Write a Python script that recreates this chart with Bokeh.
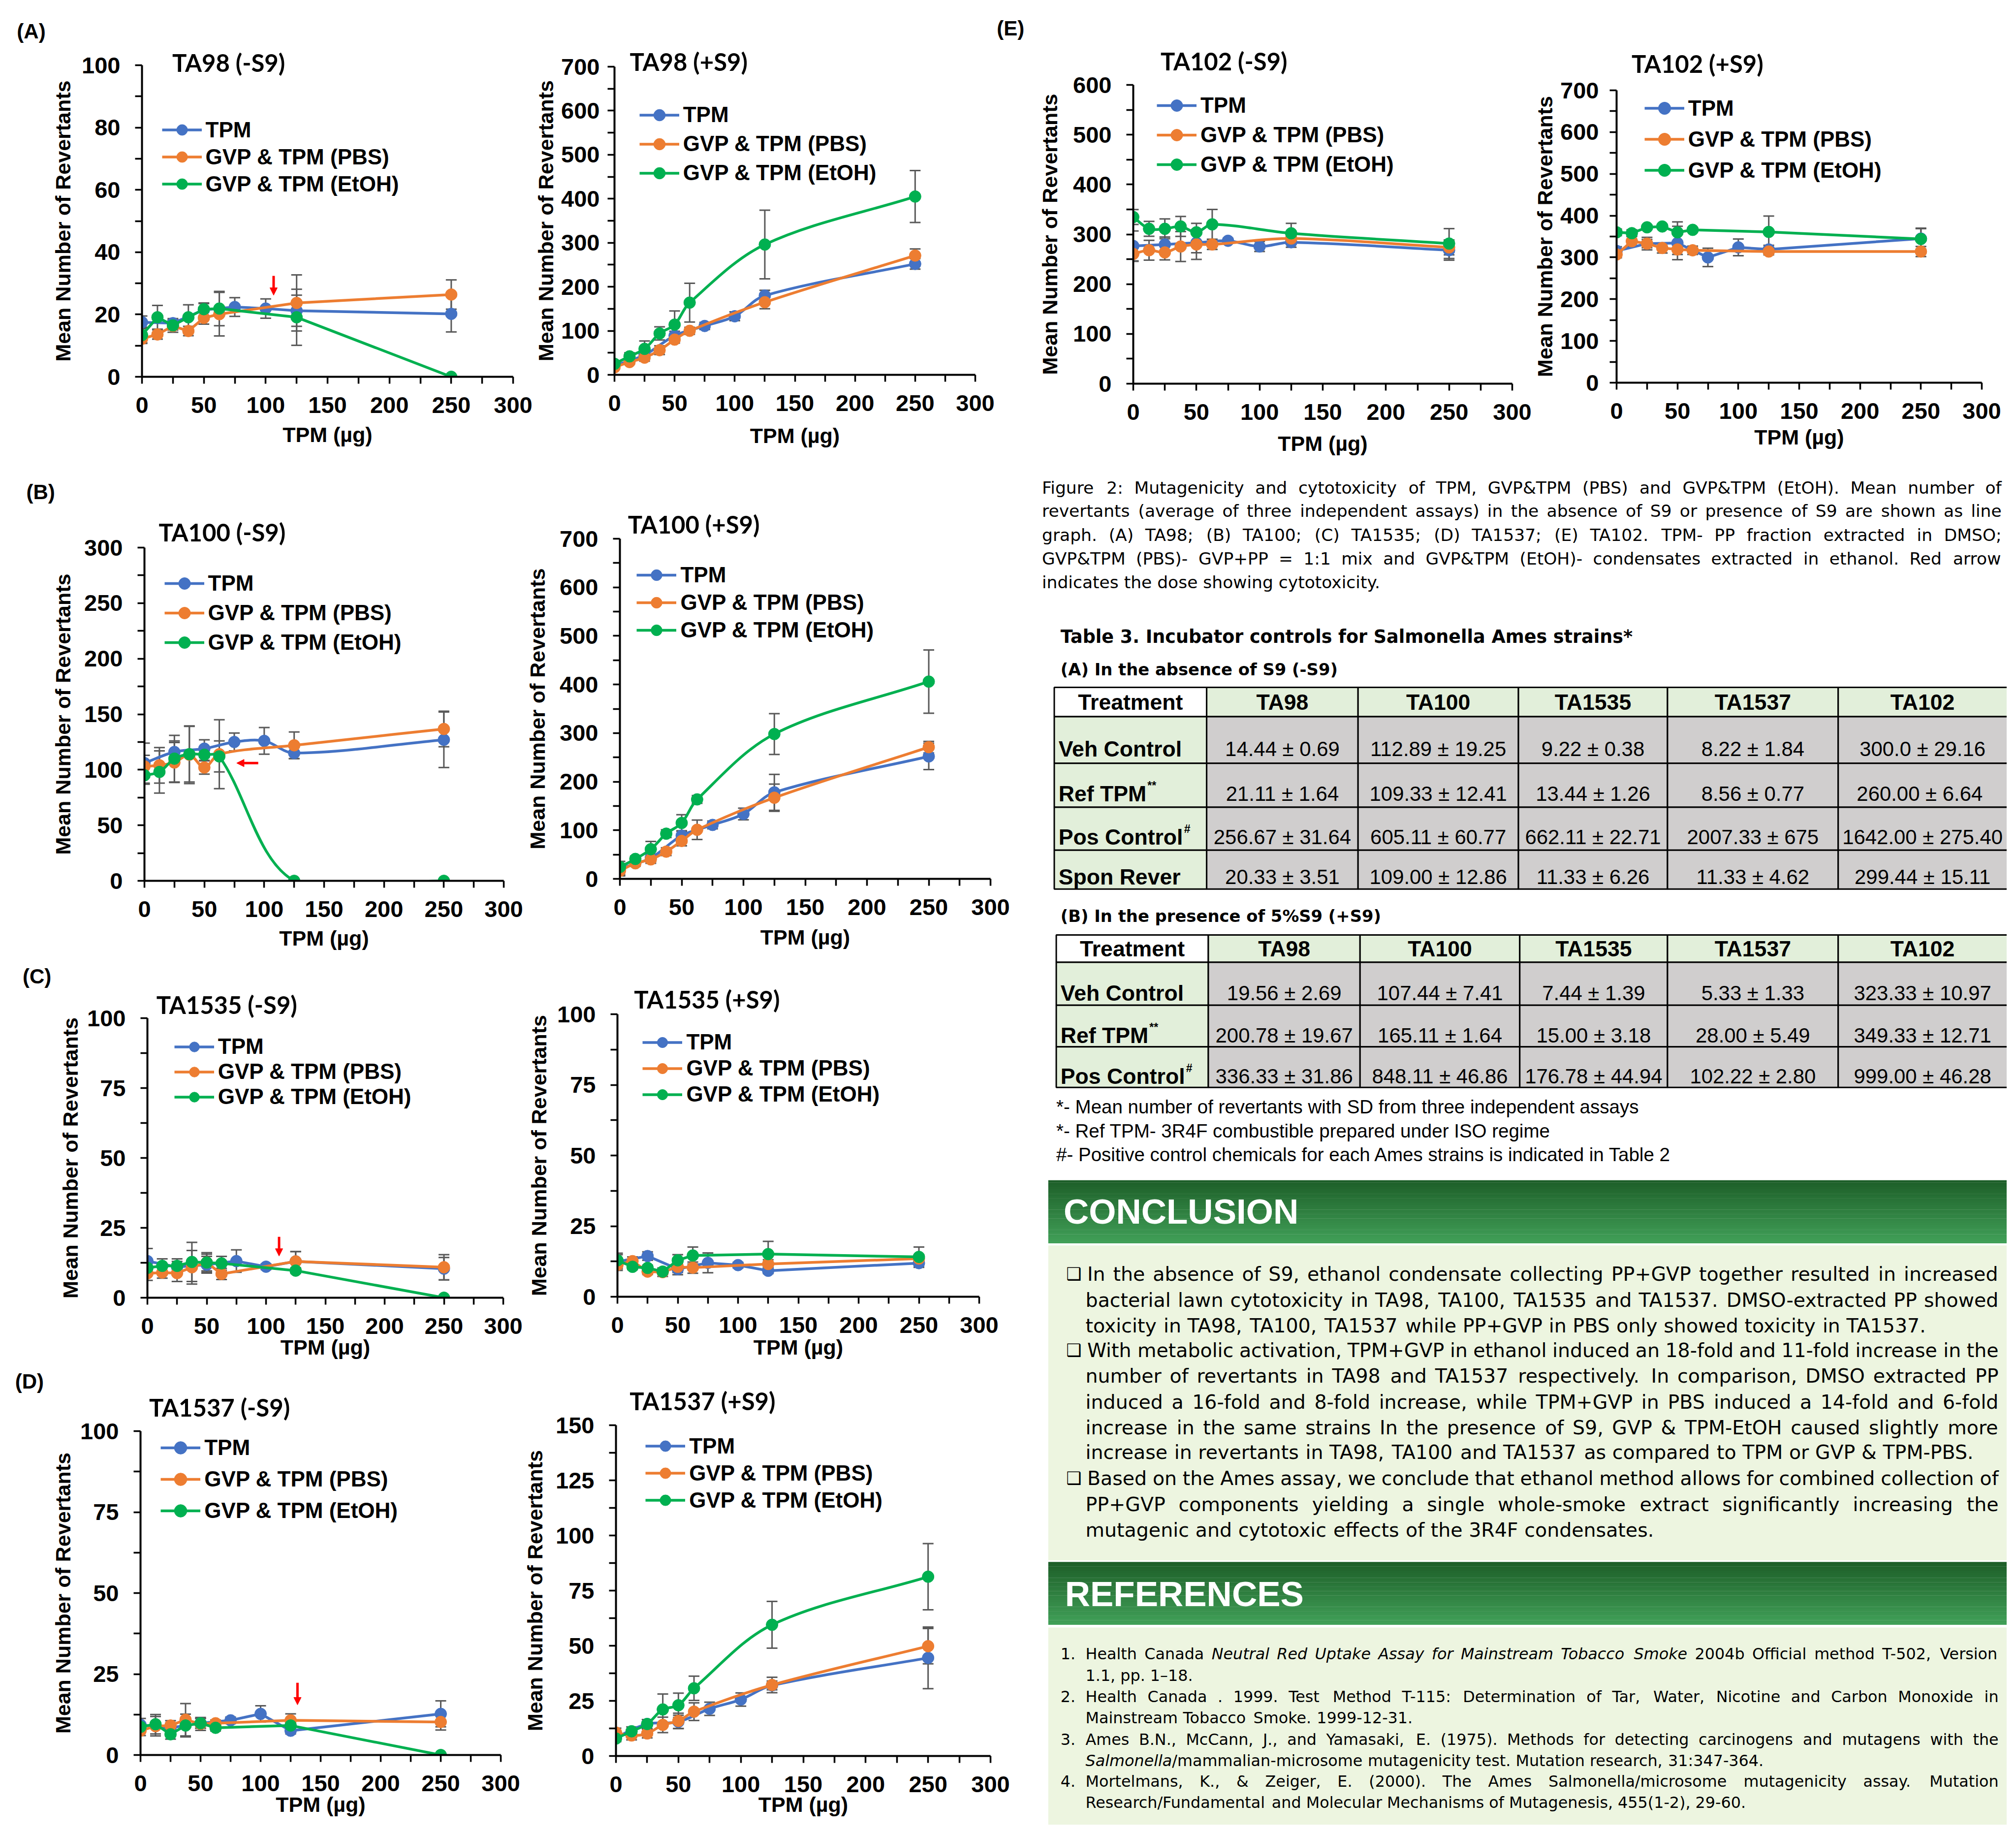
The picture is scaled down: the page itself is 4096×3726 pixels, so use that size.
import math
import numpy as np
from bokeh.plotting import figure
from bokeh.models import (Range1d, FixedTicker, Legend, LegendItem, Title, Arrow, NormalHead,
                          Whisker, TeeHead, ColumnDataSource)
from bokeh.layouts import row, column
from bokeh.embed import file_html
from bokeh.resources import INLINE
from bokeh.core.properties import value

# ------------------------------------------------------------------ data
dose_tpm = [0, 25, 50, 75, 100, 125, 250]
dose_mix = [0, 12.5, 25, 37.5, 50, 62.5, 125, 250]
series_names = ["TPM", "GVP & TPM (PBS)", "GVP & TPM (EtOH)"]
x_ticks = [0, 50, 100, 150, 200, 250, 300]
x_minor = [25, 75, 125, 175, 225, 275]

# TA98 (-S9)
ta98_m_tpm = [17.5, 17.2, 21.5, 22.4, 21.9, 21.2, 20.2]
ta98_m_tpm_sd = [2.0, 1.5, 2.0, 3.0, 3.1, 5.0, 5.8]
ta98_m_pbs = [12.2, 13.6, 16.3, 14.7, 18.9, 20.1, 23.7, 26.4]
ta98_m_pbs_sd = [1.5, 1.5, 2.0, 1.5, 2.0, 7.0, 9.0, 4.7]
ta98_m_etoh = [13.4, 19.1, 16.5, 19.1, 21.7, 21.9, 19.1, 0.0]
ta98_m_etoh_sd = [2.5, 3.8, 1.5, 4.0, 2.0, 5.5, 9.0, 0.0]
ta98_m_arrow = [106.4, 32.4, 106.4, 26.2]

# TA98 (+S9)
ta98_p_tpm = [21, 45, 89, 111, 133, 180, 252]
ta98_p_tpm_sd = [5, 8, 10, 8, 10, 12, 12]
ta98_p_pbs = [17, 29, 39, 56, 80, 100, 165, 271]
ta98_p_pbs_sd = [4, 5, 8, 10, 8, 8, 15, 15]
ta98_p_etoh = [25, 42, 59, 94, 114, 164, 296, 405]
ta98_p_etoh_sd = [5, 8, 18, 15, 31, 44, 78, 59]

# TA100 (-S9)
ta100_m_tpm = [106, 116, 119, 125, 126, 115, 127]
ta100_m_tpm_sd = [18, 10, 8, 8, 12, 5, 25]
ta100_m_pbs = [103, 104, 106.5, 113.5, 102, 114, 122, 136.7]
ta100_m_pbs_sd = [10, 16, 18, 26, 6, 31, 12, 16]
ta100_m_etoh = [95, 98, 110, 114, 113.5, 112, 0, 0]
ta100_m_etoh_sd = [8, 19, 21, 25, 5, 14, 0, 0]
ta100_m_arrow = [95, 106, 77, 106]

# TA100 (+S9)
ta100_p_tpm = [21, 43, 89, 111, 133.5, 178, 252]
ta100_p_tpm_sd = [15, 8, 10, 8, 12, 37, 27]
ta100_p_pbs = [16.5, 32, 40, 56, 78, 101, 167, 271]
ta100_p_pbs_sd = [8, 6, 8, 8, 10, 20, 28, 12]
ta100_p_etoh = [24.5, 41, 61, 93, 115, 163.5, 298, 406]
ta100_p_etoh_sd = [5, 6, 16, 8, 17, 8, 42, 65]

# TA1535 (-S9)
ta1535_m_tpm = [13.1, 11.0, 11.8, 13.1, 11.1, 13.0, 10.4]
ta1535_m_tpm_sd = [4.5, 2.0, 3.0, 4.0, 1.0, 3.5, 4.0]
ta1535_m_pbs = [8.7, 9.0, 8.8, 10.9, 12.6, 8.5, 13.0, 10.9]
ta1535_m_pbs_sd = [2.5, 2.0, 3.0, 6.0, 3.0, 2.0, 3.5, 4.5]
ta1535_m_etoh = [10.7, 11.4, 11.4, 12.8, 12.6, 12.3, 9.7, 0.0]
ta1535_m_etoh_sd = [1.5, 2.5, 2.5, 7.0, 3.5, 2.5, 1.0, 0.0]
ta1535_m_arrow = [111, 21.8, 111, 14.9]

# TA1535 (+S9)
ta1535_p_tpm = [12.4, 14.4, 9.8, 12.0, 11.2, 9.2, 11.9]
ta1535_p_tpm_sd = [2.5, 1.5, 2.0, 3.5, 1.0, 1.0, 1.5]
ta1535_p_pbs = [11.3, 12.6, 8.9, 8.7, 10.6, 10.3, 11.6, 13.5]
ta1535_p_pbs_sd = [2.0, 1.5, 1.0, 1.5, 2.0, 2.0, 1.5, 1.5]
ta1535_p_etoh = [12.9, 10.6, 10.2, 8.9, 12.9, 14.6, 15.1, 14.1]
ta1535_p_etoh_sd = [2.5, 1.0, 1.0, 1.0, 2.0, 3.0, 4.5, 3.5]

# TA1537 (-S9)
ta1537_m_tpm = [9.3, 8.4, 9.8, 10.7, 12.7, 7.5, 12.7]
ta1537_m_tpm_sd = [2.0, 1.5, 1.5, 1.0, 2.5, 1.0, 4.0]
ta1537_m_pbs = [7.5, 8.9, 9.1, 10.9, 9.6, 9.8, 10.7, 10.2]
ta1537_m_pbs_sd = [1.5, 3.0, 1.5, 5.0, 2.0, 1.0, 2.0, 2.5]
ta1537_m_etoh = [8.7, 9.5, 6.4, 9.1, 9.8, 8.4, 9.1, 0.0]
ta1537_m_etoh_sd = [1.0, 3.0, 1.5, 3.5, 1.5, 1.0, 1.0, 0.0]
ta1537_m_arrow = [130.7, 22.3, 130.7, 15.5]

# TA1537 (+S9)
ta1537_p_tpm = [8.5, 14.5, 15.5, 21.4, 25.6, 32.0, 44.5]
ta1537_p_tpm_sd = [2, 2, 3, 3, 3, 2, 14]
ta1537_p_pbs = [10.6, 9.3, 10.2, 14.1, 15.9, 20.1, 32.2, 49.8]
ta1537_p_pbs_sd = [2, 2, 2, 3.5, 3.5, 4, 3.5, 8]
ta1537_p_etoh = [7.9, 11.2, 14.5, 21.1, 23.0, 30.7, 59.5, 81.3]
ta1537_p_etoh_sd = [1, 2, 2, 7, 5.5, 5.5, 10.6, 15]

# TA102 (-S9)
ta102_m_tpm = [276.6, 279.6, 283, 287, 275.5, 284, 268]
ta102_m_tpm_sd = [30, 15, 20, 5, 10, 10, 20]
ta102_m_pbs = [260.7, 268, 263.6, 275.5, 279.6, 279.6, 291.5, 273.7]
ta102_m_pbs_sd = [15, 20, 15, 30, 30, 10, 10, 15]
ta102_m_etoh = [334.7, 311, 311, 315.8, 304, 320, 302, 281.4]
ta102_m_etoh_sd = [15, 15, 20, 20, 18, 30, 20, 30]

# TA102 (+S9)
ta102_p_tpm = [315.5, 333, 334.5, 300, 324, 319, 345]
ta102_p_tpm_sd = [10, 10, 40, 22, 20, 10, 25]
ta102_p_pbs = [307, 338.7, 333, 322.5, 319, 317, 314, 314]
ta102_p_pbs_sd = [8, 12, 15, 12, 12, 10, 8, 12]
ta102_p_etoh = [360, 358, 372, 374, 360, 366, 361, 344]
ta102_p_etoh_sd = [8, 8, 5, 5, 25, 5, 38, 25]

# Table 3
table_header = ["Treatment", "TA98", "TA100", "TA1535", "TA1537", "TA102"]
tabA_rows = ["Veh Control", "Ref TPM", "Pos Control", "Spon Rever"]
tabA_sup = ["", "**", "#", ""]
tabA_vals = [
    ["14.44 ± 0.69", "112.89 ± 19.25", "9.22 ± 0.38", "8.22 ± 1.84", "300.0 ± 29.16"],
    ["21.11 ± 1.64", "109.33 ± 12.41", "13.44 ± 1.26", "8.56 ± 0.77", "260.00  ± 6.64"],
    ["256.67 ± 31.64", "605.11 ± 60.77", "662.11 ± 22.71", "2007.33 ± 675", "1642.00 ± 275.40"],
    ["20.33 ± 3.51", "109.00 ± 12.86", "11.33 ± 6.26", "11.33 ± 4.62", "299.44 ± 15.11"],
]
tabB_rows = ["Veh Control", "Ref TPM", "Pos Control"]
tabB_sup = ["", "**", "#"]
tabB_vals = [
    ["19.56 ± 2.69", "107.44 ± 7.41", "7.44 ± 1.39", "5.33 ± 1.33", "323.33 ± 10.97"],
    ["200.78 ± 19.67", "165.11 ± 1.64", "15.00 ± 3.18", "28.00 ± 5.49", "349.33 ± 12.71"],
    ["336.33 ± 31.86", "848.11 ± 46.86", "176.78 ± 44.94", "102.22 ± 2.80", "999.00 ± 46.28"],
]

caption_lines = [
    "Figure 2: Mutagenicity and cytotoxicity of TPM, GVP&TPM (PBS) and GVP&TPM (EtOH). Mean number of",
    "revertants (average of three independent assays) in the absence of S9 or presence of S9 are shown as line",
    "graph. (A) TA98; (B) TA100; (C) TA1535; (D) TA1537; (E) TA102. TPM- PP fraction extracted in DMSO;",
    "GVP&TPM (PBS)- GVP+PP = 1:1 mix and GVP&TPM (EtOH)- condensates extracted in ethanol. Red arrow",
    "indicates the dose showing cytotoxicity.",
]
footnotes = [
    "*- Mean number of revertants with SD from three independent assays",
    "*- Ref TPM- 3R4F combustible prepared under ISO regime",
    "#- Positive control chemicals for each Ames strains is indicated in Table 2",
]
conclusion_lines = [
    "In the absence of S9, ethanol condensate collecting PP+GVP together resulted in increased",
    "bacterial lawn cytotoxicity in TA98, TA100, TA1535 and TA1537. DMSO-extracted PP showed",
    "toxicity in TA98, TA100, TA1537 while PP+GVP in PBS only showed toxicity in TA1537.",
    "With metabolic activation, TPM+GVP in ethanol induced an 18-fold and 11-fold increase in the",
    "number of revertants in TA98 and TA1537 respectively. In comparison, DMSO extracted PP",
    "induced a 16-fold and 8-fold increase, while TPM+GVP in PBS induced a 14-fold and 6-fold",
    "increase in the same strains In the presence of S9, GVP & TPM-EtOH caused slightly more",
    "increase in revertants in TA98, TA100 and TA1537 as compared to TPM or GVP & TPM-PBS.",
    "Based on the Ames assay, we conclude that ethanol method allows for combined collection of",
    "PP+GVP components yielding a single whole-smoke extract significantly increasing the",
    "mutagenic and cytotoxic effects of the 3R4F condensates.",
]
conclusion_bullet = [True, False, False, True, False, False, False, False, True, False, False]
conclusion_justify = [True, True, False, True, True, True, True, False, True, True, False]
reference_lines = [
    "Health Canada _Neutral Red Uptake Assay for Mainstream Tobacco Smoke_ 2004b Official method T-502, Version",
    "1.1, pp. 1–18.",
    "Health Canada . 1999. Test Method T-115: Determination of Tar, Water, Nicotine and Carbon Monoxide in",
    "Mainstream Tobacco Smoke. 1999-12-31.",
    "Ames B.N., McCann, J., and Yamasaki, E. (1975). Methods for detecting carcinogens and mutagens with the",
    "_Salmonella_/mammalian-microsome mutagenicity test.  Mutation research, 31:347-364.",
    "Mortelmans, K., & Zeiger, E. (2000). The Ames Salmonella/microsome mutagenicity assay. Mutation",
    "Research/Fundamental and Molecular Mechanisms of Mutagenesis, 455(1-2), 29-60.",
]
reference_numbers = ["1.", "", "2.", "", "3.", "", "4.", ""]
reference_justify = [True, False, True, False, True, False, True, False]

# ------------------------------------------------------------------ styles / layout
K = 0.676


def S(v):
    return int(round(v * K))


FONT = "Liberation Sans"
COLORS = ["#4472C4", "#ED7D31", "#00B050"]
EB = "#595959"
LW = 5.5
MS = 24
H_TITLE = 58.8   # rendered height of a 49px Lato line
H_PANEL = 46.9   # rendered height of a 42px Liberation Sans line
YLAB = "Mean Number of Revertants"


def smooth_curve(xs, ys, sx, sy):
    n = len(xs)
    P = [(xs[i] * sx, ys[i] * sy) for i in range(n)]
    out = {k: [] for k in ("x0", "y0", "x1", "y1", "cx0", "cy0", "cx1", "cy1")}

    def d(a, b):
        return math.hypot(a[0] - b[0], a[1] - b[1])

    for i in range(n - 1):
        p0 = P[i - 1] if i > 0 else P[i]
        p1, p2 = P[i], P[i + 1]
        p3 = P[i + 2] if i + 2 < n else P[i + 1]
        d01, d12, d23 = d(p0, p1), d(p1, p2), d(p2, p3)
        f1 = d12 / (d01 + d12) if d01 + d12 > 0 else 0.5
        f2 = d12 / (d12 + d23) if d12 + d23 > 0 else 0.5
        c1 = (p1[0] + (p2[0] - p0[0]) * f1 / 3, p1[1] + (p2[1] - p0[1]) * f1 / 3)
        c2 = (p2[0] - (p3[0] - p1[0]) * f2 / 3, p2[1] - (p3[1] - p1[1]) * f2 / 3)
        out["x0"].append(p1[0] / sx); out["y0"].append(p1[1] / sy)
        out["x1"].append(p2[0] / sx); out["y1"].append(p2[1] / sy)
        out["cx0"].append(c1[0] / sx); out["cy0"].append(c1[1] / sy)
        out["cx1"].append(c2[0] / sx); out["cy1"].append(c2[1] / sy)
    return out


def build_chart(c, box):
    bx0, by0, bx1, by1 = box
    fl, ft, fr, fb = c["frame"]
    fw = S(fr) - S(fl)
    fh = S(fb) - S(ft)
    bl = S(fl) - S(bx0)
    br = S(bx1) - S(fr)
    bt = S(ft) - S(by0)
    bb = S(by1) - S(fb)
    ymax, major, minor = c["yaxis"]
    p = figure(frame_width=fw, frame_height=fh, min_border_left=bl, min_border_right=br,
               min_border_top=bt, min_border_bottom=bb, title=None,
               x_range=Range1d(0, 300), y_range=Range1d(0, ymax),
               toolbar_location=None, output_backend="svg",
               outline_line_color=None, background_fill_color="white", border_fill_color="white")
    p.xgrid.visible = False
    p.ygrid.visible = False
    xa = p.xaxis[0]
    ya = p.yaxis[0]
    xa.ticker = FixedTicker(ticks=x_ticks, minor_ticks=x_minor)
    yt = [int(v) for v in np.arange(0, ymax + 0.01, major)]
    ym = [float(v) for v in np.arange(0, ymax + 0.01, minor) if all(abs(v - t) > 1e-6 for t in yt)]
    ya.ticker = FixedTicker(ticks=yt, minor_ticks=ym)
    for ax in (xa, ya):
        ax.axis_line_color = "black"
        ax.axis_line_width = 4
        ax.major_tick_line_color = "black"
        ax.major_tick_line_width = 3.5
        ax.minor_tick_line_color = "black"
        ax.minor_tick_line_width = 3.5
        ax.major_tick_in = 0
        ax.major_tick_out = 14
        ax.minor_tick_in = 0
        ax.minor_tick_out = 14
        ax.major_label_text_font = FONT
        ax.major_label_text_font_style = "bold"
        ax.major_label_text_font_size = "47px"
        ax.major_label_text_color = "black"
        ax.axis_label_text_font = FONT
        ax.axis_label_text_font_style = "bold"
        ax.axis_label_text_font_size = "43px"
        ax.axis_label_text_color = "black"
    xa.major_label_standoff = 27
    xa.axis_label = "TPM (µg)"
    dx = min(c["xlab_d"] * K, bb - 40)
    xa.axis_label_standoff = int(round(dx - 102))
    # y title: centre distance dy from the axis line; keep it clear of the tick labels
    ya.axis_label = YLAB
    cx, _cy = c["ylab"]
    dy = min((fl - cx) * K, bl - 28)
    lab_std = 30
    if dy - (14 + lab_std + 78 + 24) < 4:
        lab_std = int(max(8, dy - (14 + 78 + 24) - 4))
    ya.major_label_standoff = lab_std
    ya.axis_label_standoff = int(round(dy - (14 + lab_std + 78 + 24)))

    # chart title (closest to the frame) and panel letter (further out)
    tx, ty = c["title_pos"]
    c1 = (ft - ty) * K
    s1 = int(round(2 * c1 - H_TITLE))
    P1 = 2 + H_TITLE + s1
    p.add_layout(Title(text=c["title"], align="left", offset=(tx - fl) * K, standoff=s1,
                       text_font="Lato", text_font_style="bold", text_font_size="49px",
                       text_color="black"), "above")
    if c.get("panel"):
        t, px, py = c["panel"]
        c2 = (ft - py) * K
        s2 = 2 * (c2 - P1 - H_PANEL / 2)
        s2max = bt - 4 - P1 - 2 - H_PANEL
        s2 = int(math.floor(min(s2, s2max)))
        p.add_layout(Title(text=t, align="left", offset=(px - fl) * K, standoff=s2,
                           text_font=FONT, text_font_style="bold", text_font_size="42px",
                           text_color="black"), "above")

    sx = fw / 300.0
    sy = fh / float(ymax)
    items = []
    for (xs, ys, sd), color, name in zip(c["series"], COLORS, series_names):
        idx = [i for i in range(len(xs)) if sd[i] > 0]
        src = ColumnDataSource(dict(base=[xs[i] for i in idx],
                                    upper=[ys[i] + sd[i] for i in idx],
                                    lower=[ys[i] - sd[i] for i in idx]))
        p.add_layout(Whisker(source=src, base="base", upper="upper", lower="lower",
                             line_color=EB, line_width=3, level="underlay",
                             upper_head=TeeHead(size=22, line_color=EB, line_width=3),
                             lower_head=TeeHead(size=22, line_color=EB, line_width=3)))
        if c["smooth"]:
            bz = smooth_curve(xs, ys, sx, sy)
            p.bezier(**bz, line_color=color, line_width=LW, line_cap="round")
            lr = p.line(x=[xs[0]], y=[ys[0]], line_color=color, line_width=LW)
        else:
            lr = p.line(x=xs, y=ys, line_color=color, line_width=LW, line_join="round")
        sr = p.scatter(x=xs, y=ys, size=MS, marker="circle", fill_color=color, line_color=color)
        items.append(LegendItem(label=name, renderers=[lr, sr]))

    lx, ly1, lsp = c["legend"]
    rh = int(round(lsp * K))
    vx = (lx - fl) * K
    top_rel = (ly1 - ft) * K - rh / 2.0
    vy = fh - top_rel - 3 * rh
    leg = Legend(items=items, location=(vx, vy), orientation="vertical",
                 background_fill_alpha=0, border_line_alpha=0,
                 label_text_font=FONT, label_text_font_style="bold",
                 label_text_font_size="44px", label_text_color="black",
                 glyph_width=int(round(120 * K)), glyph_height=rh, label_height=rh,
                 spacing=0, padding=0, margin=0, label_standoff=8)
    p.add_layout(leg)

    if c.get("arrow"):
        a = c["arrow"]
        p.add_layout(Arrow(x_start=a[0], y_start=a[1], x_end=a[2], y_end=a[3],
                           line_color="#FF0000", line_width=5,
                           end=NormalHead(size=15, fill_color="#FF0000", line_color="#FF0000")))
    return p


charts = [
    dict(frame=(426, 195, 1542, 1132), yaxis=(100, 20, 10),
         series=[(dose_tpm, ta98_m_tpm, ta98_m_tpm_sd), (dose_mix, ta98_m_pbs, ta98_m_pbs_sd),
                 (dose_mix, ta98_m_etoh, ta98_m_etoh_sd)],
         smooth=False, title="TA98 (-S9)", title_pos=(517, 186), legend=(486, 390, 82),
         ylab=(194, 611), xlab_d=176, panel=("(A)", 50, 80), arrow=ta98_m_arrow),
    dict(frame=(1843, 200, 2927, 1126), yaxis=(700, 100, 50),
         series=[(dose_tpm, ta98_p_tpm, ta98_p_tpm_sd), (dose_mix, ta98_p_pbs, ta98_p_pbs_sd),
                 (dose_mix, ta98_p_etoh, ta98_p_etoh_sd)],
         smooth=True, title="TA98 (+S9)", title_pos=(1889, 184), legend=(1918, 345, 87),
         ylab=(1587, 627), xlab_d=185),
    dict(frame=(3402, 254, 4541, 1152), yaxis=(600, 100, 50),
         series=[(dose_tpm, ta102_m_tpm, ta102_m_tpm_sd), (dose_mix, ta102_m_pbs, ta102_m_pbs_sd),
                 (dose_mix, ta102_m_etoh, ta102_m_etoh_sd)],
         smooth=True, title="TA102 (-S9)", title_pos=(3484, 182), legend=(3473, 316, 89),
         ylab=(3156, 665), xlab_d=182, panel=("(E)", 2992, 82)),
    dict(frame=(4852, 270, 5950, 1150), yaxis=(700, 100, 50),
         series=[(dose_tpm, ta102_p_tpm, ta102_p_tpm_sd), (dose_mix, ta102_p_pbs, ta102_p_pbs_sd),
                 (dose_mix, ta102_p_etoh, ta102_p_etoh_sd)],
         smooth=False, title="TA102 (+S9)", title_pos=(4897, 189), legend=(4936, 324, 93),
         ylab=(4610, 667), xlab_d=166),
    dict(frame=(433, 1645, 1514, 2647), yaxis=(300, 50, 25),
         series=[(dose_tpm, ta100_m_tpm, ta100_m_tpm_sd), (dose_mix, ta100_m_pbs, ta100_m_pbs_sd),
                 (dose_mix, ta100_m_etoh, ta100_m_etoh_sd)],
         smooth=True, title="TA100 (-S9)", title_pos=(476, 1598), legend=(493, 1753, 89),
         ylab=(194, 2105), xlab_d=182, panel=("(B)", 78, 1437), arrow=ta100_m_arrow),
    dict(frame=(1860, 1619, 2973, 2640), yaxis=(700, 100, 50),
         series=[(dose_tpm, ta100_p_tpm, ta100_p_tpm_sd), (dose_mix, ta100_p_pbs, ta100_p_pbs_sd),
                 (dose_mix, ta100_p_etoh, ta100_p_etoh_sd)],
         smooth=True, title="TA100 (+S9)", title_pos=(1884, 1575), legend=(1911, 1729, 83),
         ylab=(1596, 2120), xlab_d=178),
    dict(frame=(443, 3059, 1512, 3900), yaxis=(100, 25, 12.5),
         series=[(dose_tpm, ta1535_m_tpm, ta1535_m_tpm_sd), (dose_mix, ta1535_m_pbs, ta1535_m_pbs_sd),
                 (dose_mix, ta1535_m_etoh, ta1535_m_etoh_sd)],
         smooth=False, title="TA1535 (-S9)", title_pos=(470, 3018), legend=(524, 3145, 75),
         ylab=(216, 3451), xlab_d=155, panel=("(C)", 68, 2920), arrow=ta1535_m_arrow),
    dict(frame=(1852, 3048, 2939, 3897), yaxis=(100, 25, 12.5),
         series=[(dose_tpm, ta1535_p_tpm, ta1535_p_tpm_sd), (dose_mix, ta1535_p_pbs, ta1535_p_pbs_sd),
                 (dose_mix, ta1535_p_etoh, ta1535_p_etoh_sd)],
         smooth=False, title="TA1535 (+S9)", title_pos=(1902, 3002), legend=(1928, 3133, 78),
         ylab=(1617, 3451), xlab_d=166),
    dict(frame=(422, 4301, 1504, 5273), yaxis=(100, 25, 12.5),
         series=[(dose_tpm, ta1537_m_tpm, ta1537_m_tpm_sd), (dose_mix, ta1537_m_pbs, ta1537_m_pbs_sd),
                 (dose_mix, ta1537_m_etoh, ta1537_m_etoh_sd)],
         smooth=False, title="TA1537 (-S9)", title_pos=(448, 4228), legend=(483, 4352, 95),
         ylab=(194, 4756), xlab_d=190, panel=("(D)", 45, 4150), arrow=ta1537_m_arrow),
    dict(frame=(1848, 4282, 2974, 5276), yaxis=(150, 25, 12.5),
         series=[(dose_tpm, ta1537_p_tpm, ta1537_p_tpm_sd), (dose_mix, ta1537_p_pbs, ta1537_p_pbs_sd),
                 (dose_mix, ta1537_p_etoh, ta1537_p_etoh_sd)],
         smooth=True, title="TA1537 (+S9)", title_pos=(1889, 4208), legend=(1937, 4345, 82),
         ylab=(1596, 4733), xlab_d=182),
]

# row bands (top, bottom), horizontal extent and the split between the two charts of each pair
pairs = [(0, 1, (0, 1395), 0, 2988, 1600),
         (2, 3, (0, 1395), 2988, 6028, 4600),
         (4, 5, (1395, 2880), 0, 3040, 1575),
         (6, 7, (2880, 4110), 0, 3040, 1580),
         (8, 9, (4110, 5483), 0, 3040, 1568)]

figs = [None] * 10
for li, ri, (y0, y1), x0, x1, split in pairs:
    figs[li] = build_chart(charts[li], (x0, y0, split, y1))
    figs[ri] = build_chart(charts[ri], (split, y0, x1, y1))

# ------------------------------------------------------------------ text panel
DJV = {' ': .318, '!': .401, '"': .460, '#': .838, '$': .636, '%': .950, '&': .780, "'": .275,
       '(': .390, ')': .390, '*': .500, '+': .838, ',': .318, '-': .361, '.': .318, '/': .337,
       ':': .337, ';': .337, '=': .838, '?': .531, '±': .838, '–': .500,
       'A': .684, 'B': .686, 'C': .698, 'D': .770, 'E': .632, 'F': .575, 'G': .775, 'H': .752,
       'I': .295, 'J': .295, 'K': .656, 'L': .557, 'M': .863, 'N': .748, 'O': .787, 'P': .603,
       'Q': .787, 'R': .695, 'S': .635, 'T': .611, 'U': .732, 'V': .684, 'W': .989, 'X': .685,
       'Y': .611, 'Z': .685, 'a': .613, 'b': .635, 'c': .550, 'd': .635, 'e': .615, 'f': .352,
       'g': .635, 'h': .634, 'i': .278, 'j': .278, 'k': .579, 'l': .278, 'm': .974, 'n': .634,
       'o': .612, 'p': .635, 'q': .635, 'r': .411, 's': .521, 't': .392, 'u': .634, 'v': .592,
       'w': .818, 'x': .592, 'y': .592, 'z': .525}
for _d in "0123456789":
    DJV[_d] = .636

ARB = {'R': .722, 'e': .556, 'f': .333, ' ': .278, 'T': .611, 'P': .667, 'M': .833, 'o': .611,
       's': .556, 'C': .722, 'n': .611, 't': .333, 'r': .389, 'l': .278, 'V': .667, 'h': .611,
       'S': .667, 'p': .611}


def em(s, table=DJV):
    return sum(table.get(ch, 0.62) for ch in s)


def parse_words(text):
    out = []
    ital = False
    for w in text.split():
        segs = []
        cur = ""
        for ch in w:
            if ch == "_":
                if cur:
                    segs.append((cur, ital))
                    cur = ""
                ital = not ital
            else:
                cur += ch
        if cur:
            segs.append((cur, ital))
        out.append(segs)
    return out


def draw_lines(p, lines, F, color="black"):
    nx, ny, nt, ix, iy, it = [], [], [], [], [], []
    for text, x0, x1, y, just in lines:
        words = parse_words(text)
        widths = [sum(em(s) for s, _ in w) * F for w in words]
        if just and len(words) > 1:
            gap = max((x1 - x0 - sum(widths)) / (len(words) - 1), 0.2 * F)
        else:
            gap = 0.318 * F
        x = x0
        for w, wd in zip(words, widths):
            xx = x
            for s, itl in w:
                if itl:
                    ix.append(xx); iy.append(y); it.append(s)
                else:
                    nx.append(xx); ny.append(y); nt.append(s)
                xx += em(s) * F
            x += wd + gap
    common = dict(text_font=value("DejaVu Sans"), text_font_size=value(f"{F * K:.1f}px"),
                  text_color=color, text_align=value("left"), text_baseline=value("middle"))
    p.text(x=nx, y=ny, text=nt, text_font_style=value("normal"), **common)
    if ix:
        p.text(x=ix, y=iy, text=it, text_font_style=value("italic"), **common)


def put(p, xs, ys, texts, F, font=FONT, style="normal", color="black", align="left"):
    p.text(x=xs, y=ys, text=texts, text_font=value(font), text_font_style=value(style),
           text_font_size=value(f"{F * K:.1f}px"), text_color=color,
           text_align=value(align), text_baseline=value("middle"))


def gradient_band(p, x0, x1, y0, y1, c_top, c_bot, n=28):
    ys = np.linspace(y0, y1, n + 1)
    ct = np.array([int(c_top[i:i + 2], 16) for i in (1, 3, 5)], dtype=float)
    cb = np.array([int(c_bot[i:i + 2], 16) for i in (1, 3, 5)], dtype=float)
    cols = []
    for i in range(n):
        f = (i + 0.5) / n
        c = ct + (cb - ct) * f
        cols.append("#%02x%02x%02x" % tuple(int(round(v)) for v in c))
    p.quad(left=[x0] * n, right=[x1] * n, top=list(ys[:-1]), bottom=list(ys[1:] + 0.6),
           fill_color=cols, line_color=None)


TX0, TY0, TX1, TY1 = 3040, 1395, 6028, 5483
tp = figure(width=S(TX1) - S(TX0), height=S(TY1) - S(TY0),
            x_range=Range1d(TX0, TX1), y_range=Range1d(TY1, TY0), title=None,
            x_axis_type=None, y_axis_type=None, toolbar_location=None, output_backend="svg",
            min_border_left=0, min_border_right=0, min_border_top=0, min_border_bottom=0,
            outline_line_color=None, background_fill_color="white", border_fill_color="white")
tp.grid.visible = False

# caption
cap_y = [1465, 1535, 1607, 1678, 1749]
draw_lines(tp, [(t, 3128, 6012, y, i < len(caption_lines) - 1)
                for i, (t, y) in enumerate(zip(caption_lines, cap_y))], 51)

# table title / subtitles
put(tp, [3184], [1913], ["Table 3.  Incubator controls for Salmonella Ames strains*"], 54,
    font="DejaVu Sans", style="bold")
put(tp, [3184], [2012], ["(A) In the absence of S9 (-S9)"], 50, font="DejaVu Sans", style="bold")
put(tp, [3184], [2752], ["(B) In the presence of 5%S9 (+S9)"], 50, font="DejaVu Sans", style="bold")

HDR = "#E2EFDA"
CELL = "#D0CECE"


def draw_table(p, xb, yb, rows, sups, vals, frac):
    L, R, T, B, F = [], [], [], [], []
    for j in range(6):
        L.append(xb[j]); R.append(xb[j + 1]); T.append(yb[0]); B.append(yb[1])
        F.append("white" if j == 0 else HDR)
    for i in range(len(rows)):
        for j in range(6):
            L.append(xb[j]); R.append(xb[j + 1]); T.append(yb[i + 1]); B.append(yb[i + 2])
            F.append(HDR if j == 0 else CELL)
    p.quad(left=L, right=R, top=T, bottom=B, fill_color=F, line_color="black", line_width=3)
    hx = [(xb[j] + min(xb[j + 1], 6028)) / 2 for j in range(6)]
    put(p, hx, [(yb[0] + yb[1]) / 2] * 6, table_header, 66, style="bold", align="center")
    lx, ly, lt, sx_, sy_, st, vx, vy, vt = [], [], [], [], [], [], [], [], []
    for i, (lab, sup) in enumerate(zip(rows, sups)):
        y = yb[i + 1] + frac * (yb[i + 2] - yb[i + 1])
        lx.append(xb[0] + 13); ly.append(y); lt.append(lab)
        if sup:
            sx_.append(xb[0] + 13 + em(lab, ARB) * 66 + 3); sy_.append(y - 24); st.append(sup)
        for j in range(5):
            vx.append((xb[j + 1] + min(xb[j + 2], 6028)) / 2); vy.append(y); vt.append(vals[i][j])
    put(p, lx, ly, lt, 66, style="bold")
    put(p, sx_, sy_, st, 34, style="bold")
    put(p, vx, vy, vt, 62, align="center")


draw_table(tp, [3165, 3623, 4078, 4560, 5008, 5521, 6040], [2065, 2153, 2293, 2425, 2554, 2671],
           tabA_rows, tabA_sup, tabA_vals, 0.69)
draw_table(tp, [3171, 3628, 4084, 4564, 5008, 5521, 6040], [2809, 2891, 3020, 3145, 3267],
           tabB_rows, tabB_sup, tabB_vals, 0.72)

put(tp, [3171] * 3, [3325, 3397, 3468], footnotes, 57)

# conclusion
tp.quad(left=[3147], right=[6040], top=[3742], bottom=[4688], fill_color="#EDF5E0", line_color=None)
gradient_band(tp, 3147, 6040, 3546, 3735, "#1d5e28", "#41a058")
put(tp, [3193], [3640], ["CONCLUSION"], 105, style="bold", color="white")
con_y = [3827, 3905, 3982, 4056, 4134, 4212, 4289, 4363, 4441, 4519, 4596]
lines = []
bx, by = [], []
for t, y, b, j in zip(conclusion_lines, con_y, conclusion_bullet, conclusion_justify):
    lines.append((t, 3264 if b else 3259, 6003, y, j))
    if b:
        bx.append(3201); by.append(y)
draw_lines(tp, lines, 58.5)
put(tp, bx, by, ["❑"] * len(bx), 52, font="DejaVu Sans")

# references
tp.quad(left=[3147], right=[6040], top=[4890], bottom=[5490], fill_color="#EDF5E0", line_color=None)
gradient_band(tp, 3147, 6040, 4693, 4881, "#1d5e28", "#41a058")
put(tp, [3197], [4790], ["REFERENCES"], 105, style="bold", color="white")
ref_y = [4969, 5033, 5097, 5161, 5225, 5289, 5351, 5415]
draw_lines(tp, [(t, 3259, 6003, y, j) for t, y, j in zip(reference_lines, ref_y, reference_justify)], 47)
nums = [(n, y) for n, y in zip(reference_numbers, ref_y) if n]
put(tp, [3184] * len(nums), [y for _, y in nums], [n for n, _ in nums], 47, font="DejaVu Sans")

# ------------------------------------------------------------------ layout
W = [column(f) for f in figs]
top_row = row(W[0], W[1], W[2], W[3])
left_col = column(row(W[4], W[5]), row(W[6], W[7]), row(W[8], W[9]))
page = column(top_row, row(left_col, tp))

open("out.html", "w").write(file_html(page, INLINE))
